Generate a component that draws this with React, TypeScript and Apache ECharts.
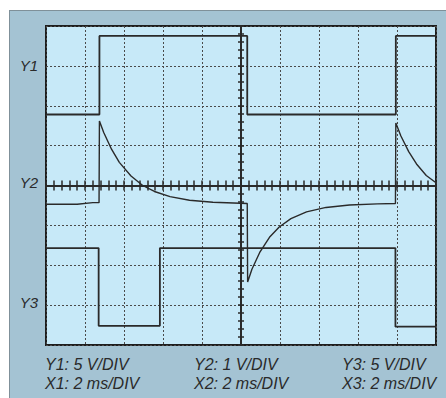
import React, { useEffect, useRef } from "react";
import * as echarts from "echarts";

// Horizontal positions in divisions from the screen centre (-5..5), vertical in divisions (-4..4)
const y1Trace: [number, number][] = [
  [-5, 1.78], [-3.63, 1.78], [-3.63, 3.75], [0.16, 3.75], [0.16, 1.78],
  [3.97, 1.78], [3.97, 3.75], [5, 3.75],
];
const y2Trace: [number, number][] = [
  [-5, -0.47], [-4.2, -0.47], [-3.8, -0.43], [-3.64, -0.43], [-3.63, 1.62],
  [-3.52, 1.33], [-3.32, 0.91], [-3.12, 0.58], [-2.82, 0.24], [-2.52, 0.0],
  [-2.22, -0.15], [-1.82, -0.28], [-1.32, -0.37], [-0.72, -0.42], [0.16, -0.45],
  [0.17, -2.42], [0.28, -2.1], [0.48, -1.68], [0.73, -1.3], [0.98, -1.04],
  [1.28, -0.83], [1.68, -0.66], [2.18, -0.55], [2.78, -0.49], [3.5, -0.46],
  [3.96, -0.45], [3.97, 1.57], [4.1, 1.24], [4.3, 0.85], [4.5, 0.54],
  [4.75, 0.25], [5, 0.07],
];
const y3Trace: [number, number][] = [
  [-5, -1.57], [-3.65, -1.57], [-3.65, -3.52], [-2.08, -3.52], [-2.08, -1.57],
  [3.96, -1.57], [3.96, -3.54], [5, -3.54],
];

const channelLabels = ["Y1", "Y2", "Y3"];
const channelLabelY = [65.5, 182.5, 302];
const scaleRow1 = ["Y1: 5 V/DIV", "Y2: 1 V/DIV", "Y3: 5 V/DIV"];
const scaleRow2 = ["X1: 2 ms/DIV", "X2: 2 ms/DIV", "X3: 2 ms/DIV"];
const scaleColX = [45, 194, 342];

const INK = "#2a2a2a";
const FONT_FAMILY = '"Liberation Sans", Arial, sans-serif';

export default function App() {
  const ref = useRef<HTMLDivElement>(null);

  useEffect(() => {
    if (!ref.current) return;
    const chart = echarts.init(ref.current, undefined, { renderer: "svg" });

    const xBase = {
      type: "value" as const,
      min: -5,
      max: 5,
      interval: 1,
      axisLabel: { show: false },
    };
    const yBase = {
      type: "value" as const,
      min: -4,
      max: 4,
      interval: 1,
      axisLabel: { show: false },
    };

    const graphics: any[] = [];
    channelLabels.forEach((t, i) => {
      graphics.push({
        type: "text",
        x: 38,
        y: channelLabelY[i],
        style: {
          text: t,
          font: `italic 15px ${FONT_FAMILY}`,
          fill: INK,
          textAlign: "right",
          textVerticalAlign: "middle",
        },
      });
    });
    scaleColX.forEach((x, i) => {
      graphics.push({
        type: "text",
        x,
        y: 364.5,
        style: {
          text: scaleRow1[i],
          font: `italic 16px ${FONT_FAMILY}`,
          fill: INK,
          textAlign: "left",
          textVerticalAlign: "middle",
        },
      });
      graphics.push({
        type: "text",
        x,
        y: 383.5,
        style: {
          text: scaleRow2[i],
          font: `italic 16px ${FONT_FAMILY}`,
          fill: INK,
          textAlign: "left",
          textVerticalAlign: "middle",
        },
      });
    });

    const traceStyle = (w: number) => ({
      type: "line" as const,
      showSymbol: false,
      symbol: "none",
      silent: true,
      xAxisIndex: 0,
      yAxisIndex: 0,
      lineStyle: { color: INK, width: w },
      z: 5,
    });

    chart.setOption({
      animation: false,
      grid: {
        left: 46,
        top: 26,
        width: 390,
        height: 319,
        show: true,
        backgroundColor: "#c7e9f8",
        borderColor: "#1e1e1e",
        borderWidth: 2,
      },
      xAxis: [
        {
          ...xBase,
          position: "bottom",
          axisLine: { show: true, onZero: true, onZeroAxisIndex: 0, lineStyle: { color: INK, width: 2 } },
          axisTick: { show: true, inside: false, length: 5, lineStyle: { color: INK, width: 1.5 } },
          minorTick: { show: true, splitNumber: 5, length: 5, lineStyle: { color: INK, width: 1.5 } },
          splitLine: { show: true, lineStyle: { color: "#4a4a4a", width: 1, type: [2, 2] } },
        },
        {
          ...xBase,
          position: "top",
          axisLine: { show: true, onZero: true, onZeroAxisIndex: 0, lineStyle: { color: INK, width: 2 } },
          axisTick: { show: true, inside: false, length: 5, lineStyle: { color: INK, width: 1.5 } },
          minorTick: { show: true, splitNumber: 5, length: 5, lineStyle: { color: INK, width: 1.5 } },
          splitLine: { show: false },
        },
      ],
      yAxis: [
        {
          ...yBase,
          position: "left",
          axisLine: { show: true, onZero: true, onZeroAxisIndex: 0, lineStyle: { color: INK, width: 2 } },
          axisTick: { show: true, inside: false, length: 3, lineStyle: { color: INK, width: 1.5 } },
          minorTick: { show: true, splitNumber: 5, length: 3, lineStyle: { color: INK, width: 1.5 } },
          splitLine: { show: true, lineStyle: { color: "#4a4a4a", width: 1, type: [2, 2] } },
        },
        {
          ...yBase,
          position: "right",
          axisLine: { show: true, onZero: true, onZeroAxisIndex: 0, lineStyle: { color: INK, width: 2 } },
          axisTick: { show: true, inside: false, length: 3, lineStyle: { color: INK, width: 1.5 } },
          minorTick: { show: true, splitNumber: 5, length: 3, lineStyle: { color: INK, width: 1.5 } },
          splitLine: { show: false },
        },
      ],
      series: [
        { ...traceStyle(1.8), name: "Y1", data: y1Trace },
        { ...traceStyle(1.4), name: "Y2", data: y2Trace },
        { ...traceStyle(1.8), name: "Y3", data: y3Trace },
      ],
      graphic: graphics,
    });

    return () => chart.dispose();
  }, []);

  return (
    <div style={{ position: "fixed", left: 0, top: 0, width: 446, height: 398, background: "#ffffff", overflow: "hidden" }}>
      <div
        style={{
          position: "absolute",
          left: 9,
          top: 10,
          right: 0,
          bottom: 0,
          background: "#a4c3d3",
          borderTop: "1px solid #7f9099",
          borderLeft: "1px solid #7f9099",
        }}
      />
      <div ref={ref} style={{ position: "absolute", left: 0, top: 0, width: 446, height: 398 }} />
    </div>
  );
}
